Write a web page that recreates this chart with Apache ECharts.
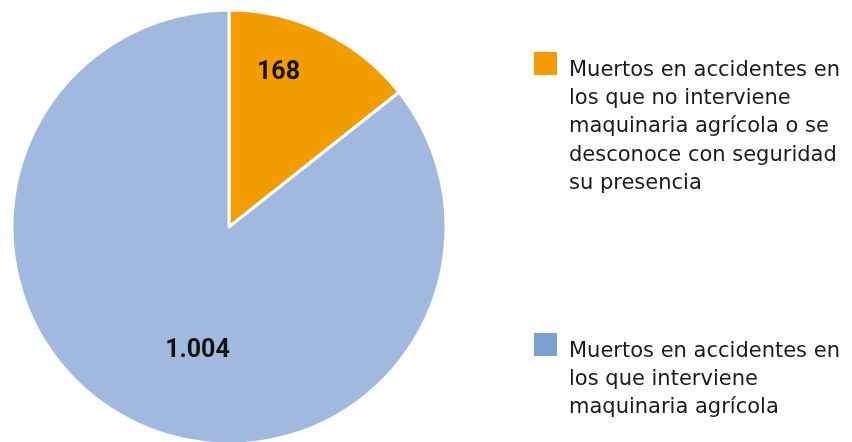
<!DOCTYPE html>
<html lang="es">
<head>
    <meta charset="UTF-8">
    <title>Muertos en accidentes</title>
    <script src="https://cdn.jsdelivr.net/npm/echarts@6/dist/echarts.min.js"></script>
    <style>
        body { margin: 0; padding: 0; background: #fff; }
    </style>
</head>
<body>
    <div id="chart" style="width: 852px; height: 442px;"></div>
    <script>
        // datos
        var names = [
            "Muertos en accidentes en los que no interviene maquinaria agrícola o se desconoce con seguridad su presencia",
            "Muertos en accidentes en los que interviene maquinaria agrícola"
        ];
        var values = [168, 1004];
        var valueLabels = ["168", "1.004"];
        var legendLines = [
            ["Muertos en accidentes en", "los que no interviene", "maquinaria agrícola o se", "desconoce con seguridad", "su presencia"],
            ["Muertos en accidentes en", "los que interviene", "maquinaria agrícola"]
        ];

        var sliceColors = ["#F39C00", "#A1B9DF"];
        var legendColors = ["#F39C00", "#7DA0D2"];
        var labelOffsets = [[1, -54], [17, 23]];
        var legendTops = [52, 333];

        var chart = echarts.init(document.getElementById("chart"));

        var pieData = values.map(function (v, i) {
            return {
                name: names[i],
                value: v,
                itemStyle: { color: sliceColors[i] },
                label: { formatter: valueLabels[i], offset: labelOffsets[i] }
            };
        });

        // leyenda manual: cuadrado alineado con la primera línea
        var graphics = [];
        legendLines.forEach(function (lines, i) {
            graphics.push({
                type: "rect",
                left: 534,
                top: legendTops[i],
                shape: { width: 23, height: 23 },
                style: { fill: legendColors[i] }
            });
            graphics.push({
                type: "text",
                left: 569,
                top: legendTops[i] + 4,
                style: {
                    text: lines.join("\n"),
                    font: "21px 'DejaVu Sans'",
                    lineHeight: 28.4,
                    fill: "#1a1a1a"
                }
            });
        });

        var option = {
            animation: false,
            graphic: graphics,
            series: [
                {
                    type: "pie",
                    center: [229, 227],
                    radius: 217,
                    startAngle: 90,
                    clockwise: true,
                    data: pieData,
                    itemStyle: { borderColor: "#fff", borderWidth: 3 },
                    label: {
                        show: true,
                        position: "inside",
                        color: "#111",
                        fontFamily: "Roboto",
                        fontWeight: "bold",
                        fontSize: 25
                    },
                    labelLine: { show: false },
                    emphasis: { disabled: true }
                }
            ]
        };
        chart.setOption(option);
    </script>
</body>
</html>
